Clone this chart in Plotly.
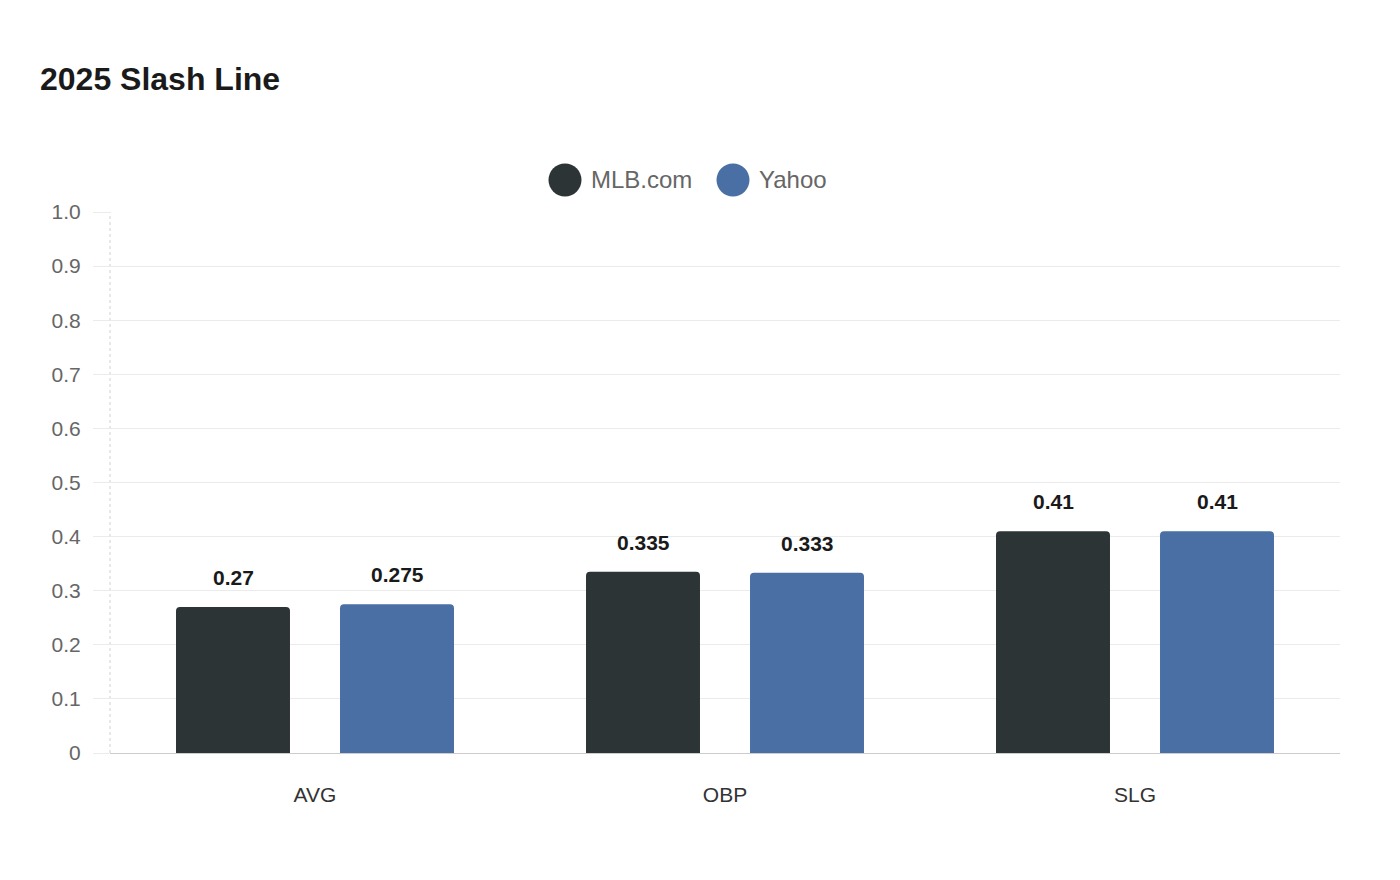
import plotly.graph_objects as go

categories = ["AVG", "OBP", "SLG"]
series_names = ["MLB.com", "Yahoo"]
mlb_values = [0.27, 0.335, 0.41]
yahoo_values = [0.275, 0.333, 0.41]
y_tickvals = [0, 0.1, 0.2, 0.3, 0.4, 0.5, 0.6, 0.7, 0.8, 0.9, 1.0]
y_ticktext = ["0", "0.1", "0.2", "0.3", "0.4", "0.5", "0.6", "0.7", "0.8", "0.9", "1.0"]
label_texts = [["0.27", "0.335", "0.41"], ["0.275", "0.333", "0.41"]]

colors = ["#2d3436", "#4a6fa5"]
FONT = "Liberation Sans, Arial, sans-serif"

# page body has an 8px margin, so the figure is laid out 8px smaller
W, H = 1392, 872
L, R, T, B = 102, 60, 204, 127
plot_w = W - L - R
plot_h = H - T - B

bar_width = 0.278
offsets = [-0.2, 0.2]
xs = list(range(len(categories)))

fig = go.Figure()
all_values = [mlb_values, yahoo_values]
for i, (name, vals) in enumerate(zip(series_names, all_values)):
    fig.add_trace(go.Bar(
        x=[x + offsets[i] for x in xs],
        y=vals,
        width=bar_width,
        name=name,
        marker=dict(color=colors[i], line=dict(width=0)),
        showlegend=False,
        hoverinfo="y",
    ))
    for j, v in enumerate(vals):
        fig.add_annotation(
            x=xs[j] + offsets[i], y=v, xref="x", yref="y",
            text="<b>" + label_texts[i][j] + "</b>",
            showarrow=False, yanchor="bottom", yshift=16,
            font=dict(family=FONT, size=21, color="#1a1a1a"),
        )

# custom legend with large circles
legend_items = [(557, 581), (725, 749)]
legend_y = 172
ly = (H - B - legend_y) / plot_h
for i, name in enumerate(series_names):
    cx, tx = legend_items[i]
    fig.add_shape(
        type="circle", xref="paper", yref="paper",
        xsizemode="pixel", ysizemode="pixel",
        xanchor=(cx - L) / plot_w, yanchor=ly,
        x0=-16.5, x1=16.5, y0=-16.5, y1=16.5,
        fillcolor=colors[i], line=dict(width=0),
    )
    fig.add_annotation(
        x=(tx - L) / plot_w, y=ly, xref="paper", yref="paper",
        text=name, showarrow=False, xanchor="left", yanchor="middle",
        font=dict(family=FONT, size=24, color="#666666"),
    )

# dotted y axis line
fig.add_shape(
    type="line", xref="x domain", yref="y domain",
    x0=0, x1=0, y0=0, y1=1,
    line=dict(color="#d0d0d0", width=1, dash="dot"),
    layer="below",
)

fig.update_layout(
    width=W, height=H,
    margin=dict(l=L, r=R, t=T, b=B),
    paper_bgcolor="white", plot_bgcolor="white",
    barcornerradius=4,
    title=dict(
        text="<b>2025 Slash Line</b>",
        x=32 / W, xanchor="left", xref="container",
        y=1 - 71 / H, yanchor="middle", yref="container",
        font=dict(family=FONT, size=32, color="#1a1a1a"),
    ),
    font=dict(family=FONT),
    xaxis=dict(
        range=[-0.5, 2.5],
        tickvals=xs, ticktext=categories,
        showgrid=False, zeroline=False,
        showline=True, linecolor="#cccccc", linewidth=1,
        ticks="", ticklabelstandoff=23,
        tickfont=dict(family=FONT, size=21, color="#333333"),
        fixedrange=True,
    ),
    yaxis=dict(
        range=[0, 1.0],
        tickvals=y_tickvals, ticktext=y_ticktext,
        showgrid=True, gridcolor="#ebebeb", gridwidth=1,
        zeroline=False, showline=False,
        ticks="outside", ticklen=16, tickcolor="#ebebeb", tickwidth=1,
        ticklabelstandoff=8,
        tickfont=dict(family=FONT, size=21, color="#666666"),
        fixedrange=True,
    ),
)

fig.write_html("out.html")
